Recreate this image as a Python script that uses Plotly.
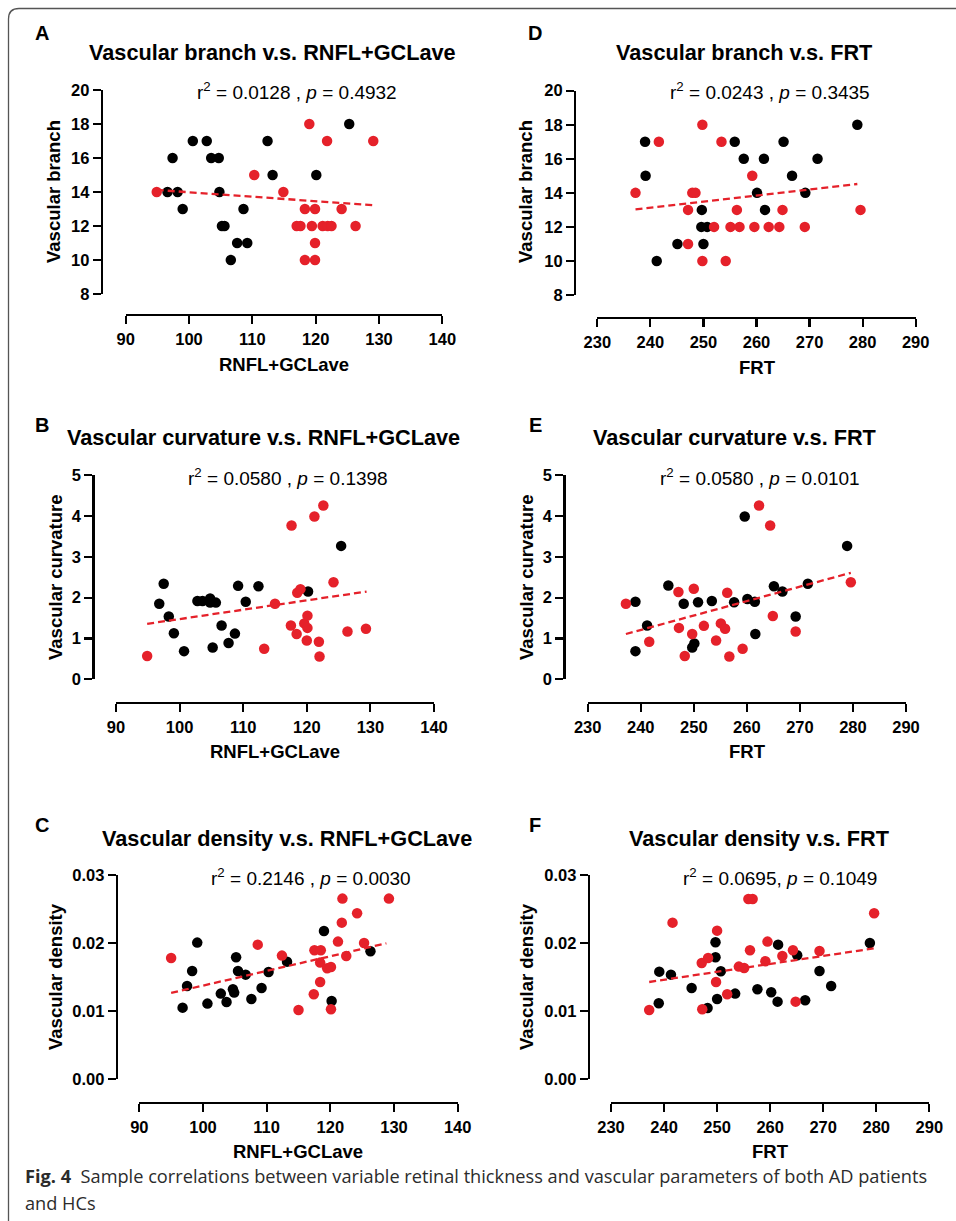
import plotly.graph_objects as go

# ---------------- data ----------------
# Panel A: Vascular branch vs RNFL+GCLave
A_black_x = [96.6, 97.4, 98.2, 99.0, 100.6, 102.8, 103.5, 104.7, 104.8, 105.2, 105.6, 106.6, 107.6, 108.6, 109.2, 112.4, 113.2, 120.1, 125.3]
A_black_y = [14, 16, 14, 13, 17, 17, 16, 16, 14, 12, 12, 10, 11, 13, 11, 17, 15, 15, 18]
A_red_x = [94.9, 110.3, 114.9, 119.0, 121.8, 129.1, 118.3, 119.9, 124.1, 117.0, 117.6, 119.4, 121.1, 121.9, 122.5, 126.3, 119.9, 118.3, 119.9]
A_red_y = [14, 15, 14, 18, 17, 17, 13, 13, 13, 12, 12, 12, 12, 12, 12, 12, 11, 10, 10]
A_fit_x = [94.9, 129.1]
A_fit_y = [14.12, 13.22]

# Panel B: Vascular curvature vs RNFL+GCLave
B_black_x = [96.8, 97.5, 98.3, 99.1, 100.7, 102.8, 103.6, 104.8, 104.8, 105.7, 105.2, 106.6, 107.7, 108.7, 109.2, 110.4, 112.4, 120.2, 125.4]
B_black_y = [1.85, 2.34, 1.54, 1.13, 0.69, 1.92, 1.92, 1.98, 1.88, 1.88, 0.78, 1.32, 0.89, 1.12, 2.29, 1.90, 2.28, 2.15, 3.27]
B_red_x = [94.9, 113.3, 115.0, 117.6, 117.5, 118.4, 118.5, 119.0, 119.6, 120.1, 120.1, 120.0, 121.2, 121.9, 122.0, 122.6, 124.2, 126.4, 129.3]
B_red_y = [0.57, 0.75, 1.85, 3.77, 1.32, 1.11, 2.12, 2.21, 1.37, 1.56, 1.26, 0.95, 3.99, 0.92, 0.56, 4.26, 2.38, 1.17, 1.24]
B_fit_x = [94.9, 129.4]
B_fit_y = [1.36, 2.15]

# Panel C: Vascular density vs RNFL+GCLave
C_black_x = [96.8, 97.5, 98.3, 99.1, 100.7, 102.8, 103.7, 104.7, 104.9, 105.2, 105.5, 106.7, 107.6, 109.2, 110.3, 113.2, 119.0, 120.2, 126.3]
C_black_y = [0.01054, 0.01373, 0.01593, 0.02010, 0.01113, 0.01260, 0.01137, 0.01324, 0.01275, 0.01794, 0.01593, 0.01539, 0.01181, 0.01343, 0.01578, 0.01730, 0.02181, 0.01152, 0.01882]
C_red_x = [95.0, 108.6, 112.4, 115.0, 117.4, 117.5, 118.5, 118.4, 118.4, 119.5, 120.1, 120.1, 121.2, 121.9, 121.8, 122.5, 124.2, 125.3, 129.2]
C_red_y = [0.01784, 0.01980, 0.01819, 0.01020, 0.01250, 0.01897, 0.01897, 0.01716, 0.01431, 0.01632, 0.01652, 0.01029, 0.02025, 0.02657, 0.02304, 0.01814, 0.02441, 0.02005, 0.02657]
C_fit_x = [95.0, 128.8]
C_fit_y = [0.0127, 0.0200]

# Panel D: Vascular branch vs FRT
D_black_x = [239.0, 239.1, 241.2, 245.1, 249.7, 249.6, 250.7, 250.0, 255.9, 257.6, 260.1, 261.4, 261.6, 265.1, 266.7, 269.2, 271.5, 279.0]
D_black_y = [17, 15, 10, 11, 13, 12, 12, 11, 17, 16, 14, 16, 13, 17, 15, 14, 16, 18]
D_red_x = [237.2, 241.6, 247.1, 247.1, 247.9, 248.5, 249.8, 249.8, 252.0, 253.4, 254.2, 255.1, 256.3, 256.8, 259.2, 259.6, 262.3, 264.3, 264.9, 269.1, 279.6]
D_red_y = [14, 17, 13, 11, 14, 14, 18, 10, 12, 17, 10, 12, 13, 12, 15, 12, 12, 12, 13, 12, 13]
D_fit_x = [237.2, 279.0]
D_fit_y = [13.03, 14.52]

# Panel E: Vascular curvature vs FRT
E_black_x = [239.0, 239.0, 241.2, 245.2, 248.1, 249.7, 250.1, 250.8, 253.4, 257.6, 259.6, 260.1, 261.5, 261.6, 265.1, 266.7, 269.2, 271.5, 278.9]
E_black_y = [1.90, 0.69, 1.32, 2.30, 1.85, 0.78, 0.88, 1.89, 1.92, 1.89, 3.99, 1.97, 1.90, 1.11, 2.28, 2.15, 1.54, 2.34, 3.27]
E_red_x = [237.2, 241.6, 247.1, 247.2, 248.3, 249.7, 250.0, 251.9, 254.2, 255.1, 255.9, 256.3, 256.7, 259.2, 262.3, 264.4, 264.9, 269.2, 279.6]
E_red_y = [1.85, 0.92, 2.14, 1.26, 0.57, 1.11, 2.22, 1.31, 0.95, 1.37, 1.24, 2.12, 0.56, 0.75, 4.26, 3.77, 1.55, 1.17, 2.38]
E_fit_x = [237.2, 279.6]
E_fit_y = [1.11, 2.61]

# Panel F: Vascular density vs FRT
F_black_x = [239.1, 239.0, 241.3, 245.2, 248.2, 249.7, 249.7, 250.0, 250.7, 253.4, 257.6, 260.2, 261.5, 261.4, 265.1, 266.6, 269.3, 271.5, 278.8]
F_black_y = [0.01583, 0.01118, 0.01539, 0.01343, 0.01049, 0.02015, 0.01794, 0.01181, 0.01588, 0.01260, 0.01324, 0.01279, 0.01980, 0.01142, 0.01824, 0.01162, 0.01593, 0.01373, 0.02005]
F_red_x = [237.2, 241.6, 247.1, 248.3, 247.2, 249.8, 250.0, 251.9, 254.1, 255.1, 255.9, 256.7, 256.2, 259.1, 259.5, 262.3, 264.3, 264.8, 269.3, 279.6]
F_red_y = [0.01020, 0.02304, 0.01711, 0.01784, 0.01029, 0.01431, 0.02186, 0.01250, 0.01657, 0.01637, 0.02652, 0.02652, 0.01897, 0.01735, 0.02025, 0.01814, 0.01897, 0.01142, 0.01887, 0.02441]
F_fit_x = [237.2, 279.6]
F_fit_y = [0.01431, 0.01926]

titles = ["Vascular branch v.s. RNFL+GCLave", "Vascular curvature v.s. RNFL+GCLave",
          "Vascular density v.s. RNFL+GCLave", "Vascular branch v.s. FRT",
          "Vascular curvature v.s. FRT", "Vascular density v.s. FRT"]
letters = ["A", "B", "C", "D", "E", "F"]
stats = ["r<sup>2</sup> = 0.0128 , <i>p</i> = 0.4932",
         "r<sup>2</sup> = 0.0580 , <i>p</i> = 0.1398",
         "r<sup>2</sup> = 0.2146 , <i>p</i> = 0.0030",
         "r<sup>2</sup> = 0.0243 , <i>p</i> = 0.3435",
         "r<sup>2</sup> = 0.0580 , <i>p</i> = 0.0101",
         "r<sup>2</sup> = 0.0695, <i>p</i> = 0.1049"]
x_titles = ["RNFL+GCLave", "RNFL+GCLave", "RNFL+GCLave", "FRT", "FRT", "FRT"]
y_titles = ["Vascular branch", "Vascular curvature", "Vascular density",
            "Vascular branch", "Vascular curvature", "Vascular density"]
caption_bold = "Fig. 4"
caption_text = "Sample correlations between variable retinal thickness and vascular parameters of both AD patients"
caption_text2 = "and HCs"

series = [
    (A_black_x, A_black_y, A_red_x, A_red_y, A_fit_x, A_fit_y),
    (B_black_x, B_black_y, B_red_x, B_red_y, B_fit_x, B_fit_y),
    (C_black_x, C_black_y, C_red_x, C_red_y, C_fit_x, C_fit_y),
    (D_black_x, D_black_y, D_red_x, D_red_y, D_fit_x, D_fit_y),
    (E_black_x, E_black_y, E_red_x, E_red_y, E_fit_x, E_fit_y),
    (F_black_x, F_black_y, F_red_x, F_red_y, F_fit_x, F_fit_y),
]

# ---------------- layout geometry (pixels in a 956x1221 page) ----------------
W, H = 956, 1221
def fx(p): return p / W
def fy(p): return 1 - p / H

geo = [
    dict(xd=(125.7, 442.3), yd=(90, 294), yl=101.7, xl=315, xr=(90, 140), yr=(8, 20), ydt=2, yfmt="d", x0=90,
         title=(87, 53), stat=(195, 91), letter=(42, 33), ytitle=(54, 192), xtitle=(284, 365)),
    dict(xd=(116, 434), yd=(475.3, 679.3), yl=93.3, xl=702.7, xr=(90, 140), yr=(0, 5), ydt=1, yfmt="d", x0=90,
         title=(65, 438), stat=(186, 476.7), letter=(42, 425), ytitle=(55, 577), xtitle=(275, 751)),
    dict(xd=(139.3, 457.7), yd=(875.3, 1079.3), yl=116.7, xl=1102.7, xr=(90, 140), yr=(0, 0.03), ydt=0.01, yfmt=".2f", x0=90,
         title=(100, 838), stat=(209, 876.7), letter=(42, 825), ytitle=(55, 977), xtitle=(298, 1151)),
    dict(xd=(597.3, 915.7), yd=(90.7, 295), yl=575, xl=317.7, xr=(230, 290), yr=(8, 20), ydt=2, yfmt="d", x0=230,
         title=(614, 53), stat=(668, 91), letter=(535, 33), ytitle=(526, 192), xtitle=(757, 367)),
    dict(xd=(587.7, 906), yd=(475.3, 679.3), yl=564.3, xl=702.7, xr=(230, 290), yr=(0, 5), ydt=1, yfmt="d", x0=230,
         title=(591, 438), stat=(658, 476.7), letter=(535, 425), ytitle=(526, 577), xtitle=(747, 751)),
    dict(xd=(611, 929.3), yd=(875.3, 1079.3), yl=588.7, xl=1102.7, xr=(230, 290), yr=(0, 0.03), ydt=0.01, yfmt=".2f", x0=230,
         title=(627, 838), stat=(681, 876.7), letter=(535, 825), ytitle=(526, 977), xtitle=(770, 1151)),
]

RED = "#e5212a"
FONT = "Liberation Sans, Arial, Helvetica, sans-serif"

fig = go.Figure()
annotations = []
layout = {}
for i, (g, s) in enumerate(zip(geo, series)):
    n = i + 1
    xa = "x" if n == 1 else f"x{n}"
    ya = "y" if n == 1 else f"y{n}"
    bx, by, rx, ry, fxv, fyv = s
    fig.add_trace(go.Scatter(x=bx, y=by, mode="markers", xaxis=xa, yaxis=ya,
                             marker=dict(size=10.5, color="black", line=dict(width=0)),
                             showlegend=False, hoverinfo="skip"))
    fig.add_trace(go.Scatter(x=rx, y=ry, mode="markers", xaxis=xa, yaxis=ya,
                             marker=dict(size=10.5, color=RED, line=dict(width=0)),
                             showlegend=False, hoverinfo="skip"))
    fig.add_trace(go.Scatter(x=fxv, y=fyv, mode="lines", xaxis=xa, yaxis=ya,
                             line=dict(color=RED, width=2.3, dash="7px,4px"),
                             showlegend=False, hoverinfo="skip"))
    axis_common = dict(showgrid=False, zeroline=False, showline=True, linecolor="black", linewidth=2.2,
                       ticks="outside", ticklen=8, tickwidth=2.2, tickcolor="black",
                       tickfont=dict(family=FONT, size=16.5, color="black", weight="bold"),
                       anchor="free", fixedrange=True, automargin=False)
    layout[f"xaxis{'' if n == 1 else n}"] = dict(axis_common, domain=[fx(g["xd"][0]), fx(g["xd"][1])],
                                                 range=list(g["xr"]), tick0=g["x0"], dtick=10,
                                                 position=fy(g["xl"]), ticklabelstandoff=1)
    layout[f"yaxis{'' if n == 1 else n}"] = dict(axis_common, domain=[fy(g["yd"][1]), fy(g["yd"][0])],
                                                 range=list(g["yr"]), tick0=0, dtick=g["ydt"],
                                                 tickformat=g["yfmt"], position=fx(g["yl"]))
    annotations.append(dict(text=titles[i], x=fx(g["title"][0]), y=fy(g["title"][1]), xref="paper", yref="paper",
                            xanchor="left", yanchor="middle", showarrow=False,
                            font=dict(family=FONT, size=21.7, color="black", weight="bold")))
    annotations.append(dict(text=stats[i], x=fx(g["stat"][0]), y=fy(g["stat"][1]), xref="paper", yref="paper",
                            xanchor="left", yanchor="middle", showarrow=False,
                            font=dict(family=FONT, size=19, color="black")))
    annotations.append(dict(text=letters[i], x=fx(g["letter"][0]), y=fy(g["letter"][1]), xref="paper", yref="paper",
                            xanchor="center", yanchor="middle", showarrow=False,
                            font=dict(family=FONT, size=20, color="black", weight="bold")))
    annotations.append(dict(text=y_titles[i], x=fx(g["ytitle"][0]), y=fy(g["ytitle"][1]), xref="paper", yref="paper",
                            xanchor="center", yanchor="middle", showarrow=False, textangle=-90,
                            font=dict(family=FONT, size=18.5, color="black", weight="bold")))
    annotations.append(dict(text=x_titles[i], x=fx(g["xtitle"][0]), y=fy(g["xtitle"][1]), xref="paper", yref="paper",
                            xanchor="center", yanchor="middle", showarrow=False,
                            font=dict(family=FONT, size=18.5, color="black", weight="bold")))

CAP_FONT = "Open Sans, Noto Sans, sans-serif"
annotations.append(dict(text=f"<b>{caption_bold}</b>  {caption_text}", x=fx(23), y=fy(1176), xref="paper", yref="paper",
                        xanchor="left", yanchor="middle", showarrow=False,
                        font=dict(family=CAP_FONT, size=18.2, color="#2b2b2b")))
annotations.append(dict(text=caption_text2, x=fx(23), y=fy(1203), xref="paper", yref="paper",
                        xanchor="left", yanchor="middle", showarrow=False,
                        font=dict(family=CAP_FONT, size=18.2, color="#2b2b2b")))

frame = dict(type="path", xref="paper", yref="paper",
             path=f"M {fx(8.5)},{fy(1221)} L {fx(8.5)},{fy(19)} Q {fx(8.5)},{fy(8.5)} {fx(19)},{fy(8.5)} L {fx(956)},{fy(8.5)}",
             line=dict(color="#555555", width=1.3))

fig.update_layout(**layout)
fig.update_layout(width=W, height=H, margin=dict(l=0, r=0, t=0, b=0),
                  paper_bgcolor="white", plot_bgcolor="rgba(0,0,0,0)",
                  showlegend=False, annotations=annotations, shapes=[frame],
                  font=dict(family=FONT))
fig.write_html("out.html", config={"displayModeBar": False, "staticPlot": True},
               post_script="document.body.style.margin='0';document.body.style.padding='0';"
                           "document.documentElement.style.overflow='hidden';")
